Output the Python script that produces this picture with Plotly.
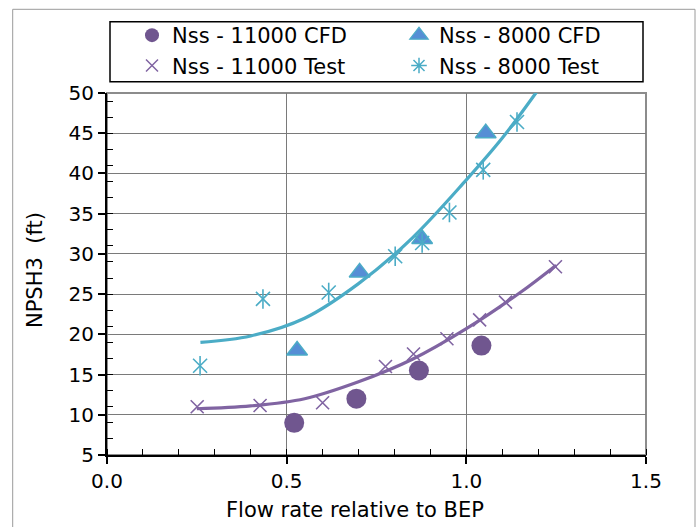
import plotly.graph_objects as go

# ---- data ----
cfd11000_x = [0.521, 0.694, 0.868, 1.042]
cfd11000_y = [9.0, 12.0, 15.5, 18.6]
cfd8000_x = [0.529, 0.703, 0.877, 1.054]
cfd8000_y = [18.0, 27.7, 31.85, 45.0]
test11000_x = [0.251, 0.426, 0.600, 0.775, 0.853, 0.946, 1.037, 1.109, 1.248]
test11000_y = [11.0, 11.15, 11.5, 16.0, 17.55, 19.45, 21.8, 24.0, 28.4]
test8000_x = [0.259, 0.434, 0.617, 0.802, 0.877, 0.953, 1.047, 1.141]
test8000_y = [16.1, 24.4, 25.2, 29.7, 31.35, 35.15, 40.45, 46.4]
trend11000_x = [0.25, 0.40, 0.55, 0.70, 0.85, 1.00, 1.15, 1.25]
trend11000_y = [10.75, 11.1, 12.0, 14.1, 16.9, 20.7, 25.2, 28.6]
trend8000_x = [0.26, 0.40, 0.55, 0.70, 0.85, 1.00, 1.10, 1.195]
trend8000_y = [19.0, 19.8, 22.0, 26.3, 32.0, 39.2, 44.4, 50.1]

names = ["Nss - 11000 CFD", "Nss - 8000 CFD", "Nss - 11000 Test", "Nss - 8000 Test"]

PURPLE_DARK = "#70568F"
PURPLE = "#8064A2"
TEAL = "#4BACC6"
BLUE = "#558ED5"
FONT = "DejaVu Sans"

fig = go.Figure()

# data markers
fig.add_trace(go.Scatter(x=cfd11000_x, y=cfd11000_y, mode="markers", showlegend=False,
                         marker=dict(symbol="circle", size=20, color=PURPLE_DARK,
                                     line=dict(width=0))))
fig.add_trace(go.Scatter(x=cfd8000_x, y=cfd8000_y, mode="markers", showlegend=False,
                         marker=dict(symbol="triangle-up", size=18, color=BLUE,
                                     line=dict(width=1.5, color=TEAL))))
fig.add_trace(go.Scatter(x=test11000_x, y=test11000_y, mode="markers", showlegend=False,
                         marker=dict(symbol="x-thin-open", size=13, color=PURPLE,
                                     line=dict(width=1.6, color=PURPLE))))
fig.add_trace(go.Scatter(x=test8000_x, y=test8000_y, mode="markers", showlegend=False,
                         marker=dict(symbol="x-thin-open", size=14, color=TEAL,
                                     line=dict(width=1.6, color=TEAL))))
fig.add_trace(go.Scatter(x=test8000_x, y=test8000_y, mode="markers", showlegend=False,
                         marker=dict(symbol="line-ns-open", size=14, color=TEAL,
                                     line=dict(width=1.6, color=TEAL))))

# trend lines
fig.add_trace(go.Scatter(x=trend11000_x, y=trend11000_y, mode="lines", showlegend=False,
                         line=dict(color=PURPLE, width=3.2, shape="spline", smoothing=1)))
fig.add_trace(go.Scatter(x=trend8000_x, y=trend8000_y, mode="lines", showlegend=False,
                         line=dict(color=TEAL, width=3.2, shape="spline", smoothing=1)))

# legend entries (two legends = two columns)
fig.add_trace(go.Scatter(x=[None], y=[None], mode="markers", name=names[0], legend="legend",
                         marker=dict(symbol="circle", size=14, color=PURPLE_DARK)))
fig.add_trace(go.Scatter(x=[None], y=[None], mode="markers", name=names[2], legend="legend",
                         marker=dict(symbol="x-thin-open", size=12, color=PURPLE,
                                     line=dict(width=1.5, color=PURPLE))))
fig.add_trace(go.Scatter(x=[None], y=[None], mode="markers", name=names[1], legend="legend2",
                         marker=dict(symbol="triangle-up", size=16, color=BLUE,
                                     line=dict(width=1.2, color=TEAL))))
fig.add_trace(go.Scatter(x=[None], y=[None], mode="markers", name=names[3], legend="legend2",
                         marker=dict(symbol="asterisk-open", size=13, color=TEAL,
                                     line=dict(width=1.5, color=TEAL))))

L, R, T, B = 107, 51, 93, 72
W, H = 697, 527
pw, ph = W - L - R, H - T - B

def px2x(px):
    return (px - L) / pw

def py2y(py):
    return (H - B - py) / ph

leg_common = dict(orientation="v", xanchor="left", yanchor="top",
                  bgcolor="rgba(0,0,0,0)", borderwidth=0,
                  font=dict(family=FONT, size=21, color="black"),
                  itemsizing="trace", traceorder="normal")

fig.update_layout(
    width=W, height=H,
    margin=dict(l=L, r=R, t=T, b=B, pad=0),
    paper_bgcolor="white", plot_bgcolor="white",
    font=dict(family=FONT, size=20, color="black"),
    showlegend=True,
    legend=dict(x=px2x(132), y=py2y(15), **leg_common),
    legend2=dict(x=px2x(399), y=py2y(15), **leg_common),
    shapes=[
        dict(type="rect", xref="paper", yref="paper", x0=0, x1=1, y0=0, y1=1,
             line=dict(color="#8c8c8c", width=2), layer="below"),
        dict(type="rect", xref="paper", yref="paper",
             x0=px2x(110), x1=px2x(643), y0=py2y(81.7), y1=py2y(21.7),
             line=dict(color="black", width=1.5), layer="above"),
        dict(type="rect", xref="paper", yref="paper",
             x0=px2x(12.7), x1=px2x(695), y0=py2y(545), y1=py2y(9.3),
             line=dict(color="#9a9a9a", width=1), layer="below"),
    ],
    annotations=[
        dict(text="Flow rate relative to BEP", xref="paper", yref="paper",
             x=px2x(355), y=py2y(509.5), xanchor="center", yanchor="middle",
             showarrow=False, font=dict(family=FONT, size=21, color="black")),
        dict(text="NPSH3\u00a0 (ft)", xref="paper", yref="paper", textangle=-90,
             x=px2x(35), y=py2y(270), xanchor="center", yanchor="middle",
             showarrow=False, font=dict(family=FONT, size=21, color="black")),
    ],
)

fig.update_xaxes(range=[0, 1.5], dtick=0.5, tick0=0, tickformat=".1f",
                 showgrid=True, gridcolor="#7a7a7a", gridwidth=1, zeroline=False,
                 showline=True, linecolor="black", linewidth=2,
                 ticks="outside", ticklen=7, tickwidth=1.5, tickcolor="black",
                 minor=dict(ticks="inside", dtick=0.1, tick0=0, ticklen=6,
                            tickwidth=1.2, tickcolor="black", showgrid=False),
                 tickfont=dict(family=FONT, size=20))
fig.update_yaxes(range=[5, 50], dtick=5, tick0=5,
                 showgrid=True, gridcolor="#7a7a7a", gridwidth=1, zeroline=False,
                 showline=True, linecolor="black", linewidth=2,
                 ticks="outside", ticklen=7, tickwidth=1.5, tickcolor="black",
                 minor=dict(ticks="inside", dtick=2, tick0=5, ticklen=6,
                            tickwidth=1.2, tickcolor="black", showgrid=False),
                 tickfont=dict(family=FONT, size=20))

fig.write_html("out.html")
